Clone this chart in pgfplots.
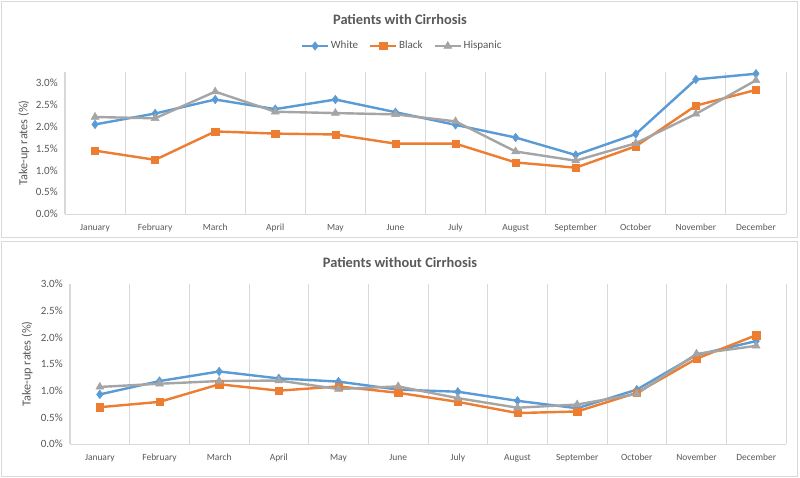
\documentclass[border=0pt]{standalone}
\usepackage{pgfplots}
\pgfplotsset{compat=1.18}
\usepackage{pgfplotstable}
\usepackage{fontspec}
\setmainfont{Carlito}
\definecolor{cWhite}{HTML}{5B9BD5}
\definecolor{cBlack}{HTML}{ED7D31}
\definecolor{cHisp}{HTML}{A5A5A5}
\definecolor{gridc}{HTML}{D9D9D9}
\definecolor{txt}{HTML}{595959}

\pgfplotstableread{
m White Black Hispanic
0 2.05 1.45 2.22
1 2.30 1.24 2.19
2 2.62 1.89 2.80
3 2.40 1.84 2.34
4 2.62 1.82 2.31
5 2.33 1.61 2.28
6 2.04 1.61 2.12
7 1.75 1.18 1.43
8 1.35 1.06 1.22
9 1.83 1.55 1.62
10 3.08 2.48 2.29
11 3.21 2.84 3.06
}\withC

\pgfplotstableread{
m White Black Hispanic
0 0.93 0.69 1.07
1 1.18 0.79 1.13
2 1.36 1.12 1.18
3 1.23 1.00 1.19
4 1.17 1.08 1.03
5 1.02 0.96 1.08
6 0.98 0.79 0.86
7 0.81 0.58 0.68
8 0.67 0.61 0.74
9 1.02 0.96 0.94
10 1.67 1.60 1.69
11 1.93 2.04 1.84
}\withoutC

\pgfplotsset{
 mystyle/.style={
  scale only axis,
  xmin=-0.5, xmax=11.5, ymin=0,
  xtick={0,...,11},
  xticklabels={January,February,March,April,May,June,July,August,September,October,November,December},
  minor xtick={-0.5,0.5,...,11.5},
  xminorgrids, minor x grid style={gridc, line width=0.75pt},
  major tick length=0pt, minor tick length=0pt,
  axis x line*=bottom, axis y line*=left,
  x axis line style={gridc, line width=0.75pt},
  y axis line style={draw=none},
  ytick={0,0.5,...,3.0},
  yticklabels={0.0\%,0.5\%,1.0\%,1.5\%,2.0\%,2.5\%,3.0\%},
  tick label style={text=txt},
  xticklabel style={font=\fontsize{7.1}{8}\selectfont, anchor=north, inner sep=0pt, yshift=-7.5pt},
  yticklabel style={font=\fontsize{8.3}{9}\selectfont, anchor=east, inner sep=0pt, xshift=-5.25pt},
  ylabel={Take-up rates (\%)},
  clip=false,
  legend image code/.code={\draw[mark repeat=2,mark phase=2,#1] plot coordinates {(0pt,0pt) (9.75pt,0pt) (19.5pt,0pt)};},
 },
 sW/.style={color=cWhite, line width=1.8pt, mark=diamond*, mark size=3.2pt, mark options={solid, line width=0.4pt, fill=cWhite}},
 sB/.style={color=cBlack, line width=1.8pt, mark=square*, mark size=2.7pt, mark options={solid, line width=0.4pt, fill=cBlack}},
 sH/.style={color=cHisp, line width=1.8pt, mark=triangle*, mark size=3.4pt, mark options={solid, line width=0.4pt, fill=cHisp}},
}

\begin{document}
\begin{tikzpicture}
\path[use as bounding box, fill=white] (0pt,0pt) rectangle (600pt,-358.5pt);
\draw[gridc, line width=0.75pt] (1.1pt,-1.1pt) rectangle (598.1pt,-178.1pt);
\draw[gridc, line width=0.75pt] (1.1pt,-180.8pt) rectangle (598.1pt,-357.4pt);

\node[font=\bfseries\fontsize{10.8}{12}\selectfont, text=txt] at (300pt,-14.25pt) {Patients with Cirrhosis};
\node[font=\bfseries\fontsize{10.8}{12}\selectfont, text=txt] at (300pt,-196.5pt) {Patients without Cirrhosis};

\begin{axis}[mystyle,
  at={(48.75pt,-160.5pt)}, anchor=south west,
  width=540.75pt, height=106.5pt, ymax=3.25,
  every axis y label/.style={at={(axis description cs:-0.0569,0.5)}, rotate=90, anchor=center, font=\fontsize{9.2}{10}\selectfont, text=txt},
  legend columns=3,
  legend style={at={(axis description cs:0.4674,1.183)}, anchor=center, draw=none, fill=none,
    font=\fontsize{8.3}{9}\selectfont, text=txt, nodes={inner sep=1.2pt},
    /tikz/every even column/.append style={column sep=7pt}},
]
\addplot[sW] table[x=m,y=White]{\withC};
\addlegendentry{White}
\addplot[sB] table[x=m,y=Black]{\withC};
\addlegendentry{Black}
\addplot[sH] table[x=m,y=Hispanic]{\withC};
\addlegendentry{Hispanic}
\end{axis}

\begin{axis}[mystyle,
  at={(52.5pt,-333pt)}, anchor=south west,
  width=537pt, height=120pt, ymax=3.0,
  every axis y label/.style={at={(axis description cs:-0.060,0.5)}, rotate=90, anchor=center, font=\fontsize{9.2}{10}\selectfont, text=txt},
]
\addplot[sW] table[x=m,y=White]{\withoutC};
\addplot[sB] table[x=m,y=Black]{\withoutC};
\addplot[sH] table[x=m,y=Hispanic]{\withoutC};
\end{axis}
\end{tikzpicture}
\end{document}
